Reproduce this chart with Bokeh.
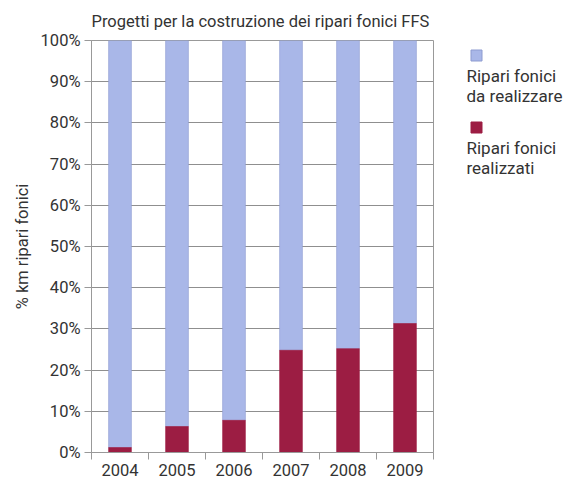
from bokeh.plotting import figure
from bokeh.layouts import row
from bokeh.models import Range1d, FixedTicker, ColumnDataSource
from bokeh.core.properties import value
from bokeh.embed import file_html
from bokeh.resources import INLINE

years = ["2004", "2005", "2006", "2007", "2008", "2009"]
realizzati = [1.2, 6.3, 7.8, 24.8, 25.2, 31.3]
series_names = ["Ripari fonici\nda realizzare", "Ripari fonici\nrealizzati"]
title_text = "Progetti per la costruzione dei ripari fonici FFS"
y_label = "% km ripari fonici"

BLUE = "#a9b7e8"
RED = "#9c1d43"
FONT = "Roboto"
TXT = "#333333"
FS = "16.5px"

x = [i + 0.5 for i in range(len(years))]
da_realizzare_top = [100.0] * len(years)
src = ColumnDataSource(dict(x=x, r=realizzati, full=da_realizzare_top))

p = figure(width=440, height=484, output_backend="svg", toolbar_location=None,
           x_range=Range1d(0, len(years)), y_range=Range1d(0, 100),
           min_border_left=91, min_border_right=7, min_border_top=40, min_border_bottom=32)
p.title.text = title_text
p.title.text_font = FONT
p.title.text_font_size = FS
p.title.text_font_style = "normal"
p.title.text_color = TXT
p.title.align = "left"
p.title.standoff = 19

p.vbar(x="x", width=0.4, bottom="r", top="full", source=src,
       fill_color=BLUE, line_color="#8d9bd0", line_width=0.6)
p.vbar(x="x", width=0.4, bottom=0, top="r", source=src,
       fill_color=RED, line_color=RED, line_width=0.6)

p.outline_line_color = "#999999"
p.outline_line_width = 1
p.xgrid.grid_line_color = None
p.ygrid.grid_line_color = "#8f8f8f"
p.ygrid.ticker = FixedTicker(ticks=list(range(0, 101, 10)))

p.yaxis.ticker = FixedTicker(ticks=list(range(0, 101, 10)))
p.yaxis.major_label_overrides = {v: f"{v}%" for v in range(0, 101, 10)}
p.yaxis.axis_label = y_label
p.yaxis.axis_label_text_font = FONT
p.yaxis.axis_label_text_font_size = FS
p.yaxis.axis_label_text_font_style = "normal"
p.yaxis.axis_label_text_color = TXT
p.yaxis.axis_label_standoff = 6
p.yaxis.major_label_text_font = FONT
p.yaxis.major_label_text_font_size = FS
p.yaxis.major_label_text_color = TXT
p.yaxis.major_label_standoff = 4
p.yaxis.major_tick_out = 7
p.yaxis.major_tick_in = 0
p.yaxis.minor_tick_line_color = None
p.yaxis.axis_line_color = "#999999"
p.yaxis.major_tick_line_color = "#999999"

p.xaxis.ticker = FixedTicker(ticks=x, minor_ticks=list(range(0, len(years) + 1)))
p.xaxis.major_label_overrides = {xi: y for xi, y in zip(x, years)}
p.xaxis.major_tick_line_color = None
p.xaxis.minor_tick_line_color = "#999999"
p.xaxis.minor_tick_out = 7
p.xaxis.minor_tick_in = 0
p.xaxis.major_tick_out = 7
p.xaxis.major_tick_in = 0
p.xaxis.axis_line_color = "#999999"
p.xaxis.major_label_text_font = FONT
p.xaxis.major_label_text_font_size = FS
p.xaxis.major_label_text_color = TXT
p.xaxis.major_label_standoff = 4

# legend panel (coordinates = page pixels)
lg = figure(width=135, height=484, output_backend="svg", toolbar_location=None,
            x_range=Range1d(440, 575), y_range=Range1d(452, 40),
            min_border_left=0, min_border_right=0, min_border_top=40, min_border_bottom=32)
lg.axis.visible = False
lg.grid.visible = False
lg.outline_line_color = None
lsrc = ColumnDataSource(dict(sx=[476, 476], sy=[55, 127], col=[BLUE, RED],
                             lc=["#8d9bd0", RED], tx=[466, 466], ty=[65, 137],
                             t=series_names))
lg.scatter(x="sx", y="sy", source=lsrc, marker="square", size=11,
           fill_color="col", line_color="lc")
lg.text(x="tx", y="ty", text="t", source=lsrc, text_font=value(FONT),
        text_font_size="17px", text_color=TXT, text_baseline="top",
        text_line_height=1.0)

layout = row(p, lg)
open("out.html", "w").write(file_html(layout, INLINE))
